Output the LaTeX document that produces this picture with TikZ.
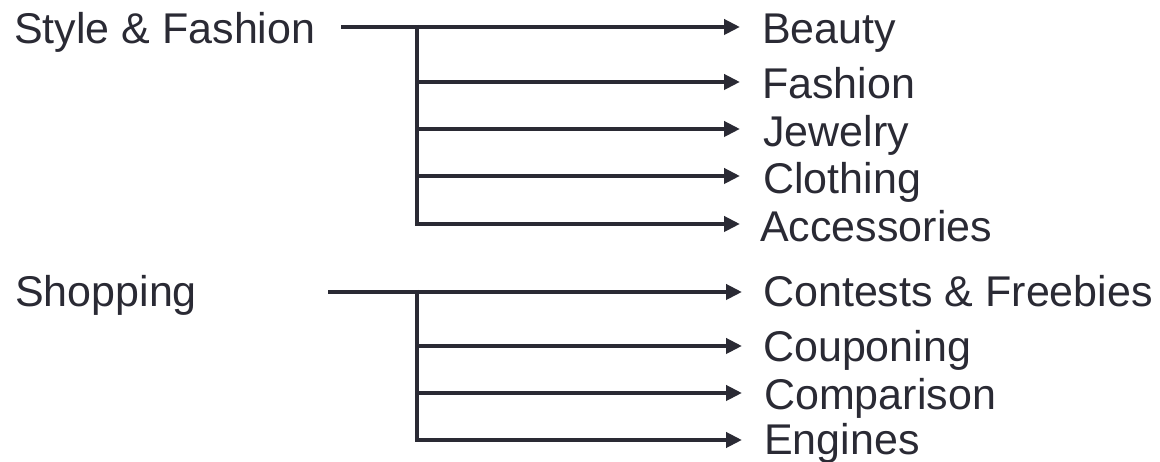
\documentclass[tikz,border=0pt]{standalone}
\usepackage{fontspec}
\setmainfont{Liberation Sans}
\usetikzlibrary{arrows.meta}
\definecolor{ink}{RGB}{42,42,52}
\begin{document}
\begin{tikzpicture}[x=1pt,y=1pt,
  lbl/.style={anchor=base west,inner sep=0pt,text=ink,font=\fontsize{43}{50}\selectfont},
  conn/.style={draw=ink,line width=4pt},
  arr/.style={conn,-{Triangle[length=16pt,width=15pt]}}]
\useasboundingbox (0,0) rectangle (1160,462);
% group 1
\node[lbl] (sf) at (14,418) {Style \& Fashion};
\node[lbl] (beauty) at (762,418) {Beauty};
\node[lbl] (fashion) at (762,363) {Fashion};
\node[lbl] (jewelry) at (763,315.3) {Jewelry};
\node[lbl] (clothing) at (763,268) {Clothing};
\node[lbl] (access) at (760,220.3) {Accessories};
\coordinate (s1) at (341,435);
\coordinate (v1top) at (417,437);
\coordinate (v1a) at (417,380);
\coordinate (v1b) at (417,333);
\coordinate (v1c) at (417,286);
\coordinate (v1bot) at (417,238);
\coordinate (t1) at (740,435);
\coordinate (t2) at (740,380);
\coordinate (t3) at (740,333);
\coordinate (t4) at (740,286);
\coordinate (t5) at (740,238);
\draw[arr] (s1) -- (t1);
\draw[arr] (v1top) -- (v1bot) -- (t5);
\draw[arr] (v1a) -- (t2);
\draw[arr] (v1b) -- (t3);
\draw[arr] (v1c) -- (t4);
% group 2
\node[lbl] (shop) at (15,155.3) {Shopping};
\node[lbl] (contests) at (763,155.3) {Contests \& Freebies};
\node[lbl] (coupon) at (763,100.3) {Couponing};
\node[lbl] (compar) at (764,52.7) {Comparison};
\node[lbl] (engines) at (764,7) {Engines};
\coordinate (s2) at (328,170);
\coordinate (v2top) at (417,172);
\coordinate (v2a) at (417,116);
\coordinate (v2b) at (417,69);
\coordinate (v2bot) at (417,22);
\coordinate (u1) at (742,170);
\coordinate (u2) at (742,116);
\coordinate (u3) at (742,69);
\coordinate (u4) at (742,22);
\draw[arr] (s2) -- (u1);
\draw[arr] (v2top) -- (v2bot) -- (u4);
\draw[arr] (v2a) -- (u2);
\draw[arr] (v2b) -- (u3);
\end{tikzpicture}
\end{document}
